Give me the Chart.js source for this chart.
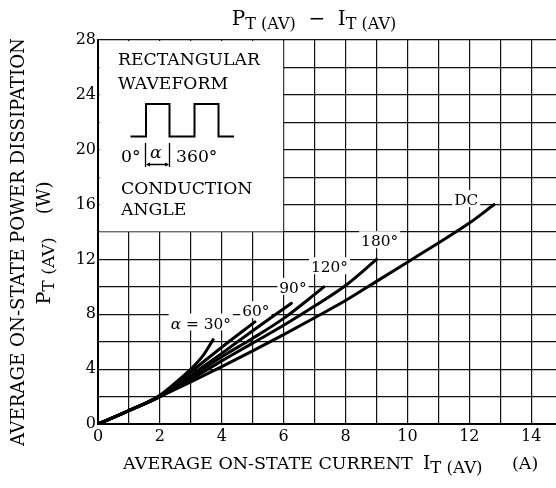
<!DOCTYPE html>
<html>
<head>
<meta charset="utf-8">
<script src="https://cdn.jsdelivr.net/npm/chart.js@4.4.1/dist/chart.umd.min.js"></script>
<style>
html,body{margin:0;padding:0;background:#fff;}
canvas{display:block;}
</style>
</head>
<body>
<canvas id="c" width="556" height="488" style="width:556px;height:488px"></canvas>
<script>
// ---- data ----
const xTickLabels = ['0','2','4','6','8','10','12','14'];
const yTickLabels = ['0','4','8','12','16','20','24','28'];

const seriesNames = ['α = 30°','60°','90°','120°','180°','DC'];

const i30  = [0, 1, 2, 2.5, 3, 3.4, 3.72];
const p30  = [0, 0.98, 2.1, 3.0, 4.0, 5.0, 6.15];
const i60  = [0, 1, 2, 3, 4, 5.07];
const p60  = [0, 0.98, 2.05, 3.8, 5.6, 7.45];
const i90  = [0, 1, 2, 3, 4, 5, 6, 6.25];
const p90  = [0, 0.98, 2.0, 3.55, 5.15, 6.8, 8.4, 8.8];
const i120 = [0, 1, 2, 3, 4, 5, 6, 7, 7.3];
const p120 = [0, 0.98, 2.0, 3.4, 4.9, 6.25, 7.7, 9.45, 10.0];
const i180 = [0, 1, 2, 3, 4, 5, 6, 7, 8, 9];
const p180 = [0, 0.98, 2.0, 3.25, 4.6, 5.9, 7.2, 8.6, 10.1, 12.0];
const iDC  = [0, 1, 2, 3, 4, 5, 6, 7, 8, 9, 10, 11, 12, 12.8];
const pDC  = [0, 0.98, 2.0, 3.07, 4.18, 5.33, 6.52, 7.75, 9.0, 10.4, 11.8, 13.2, 14.65, 16.0];

// label anchors (data coordinates) for the curve labels
const labelAnchorX = [3.32, 5.1, 6.3, 7.48, 9.1, 11.9];
const labelAnchorY = [7.4, 8.3, 10.0, 11.5, 13.4, 16.4];

const SERIF = '"DejaVu Serif", "Liberation Serif", serif';

function pts(xs, ys){ return xs.map((x,k)=>({x:x, y:ys[k]})); }

const allI = [i30,i60,i90,i120,i180,iDC];
const allP = [p30,p60,p90,p120,p180,pDC];

const datasets = allI.map((xs,k)=>({
  label: seriesNames[k],
  data: pts(xs, allP[k]),
  borderColor:'#000',
  borderWidth: 3,
  pointRadius:0,
  fill:false,
  cubicInterpolationMode:'monotone',
  borderCapStyle:'round'
}));

function drawRich(ctx, parts, x, y, align){
  let total = 0;
  parts.forEach(p=>{ ctx.font = (p.style||'') + ' ' + p.size + 'px ' + SERIF; p.w = ctx.measureText(p.t).width; total += p.w; });
  let cx = align==='center' ? x - total/2 : (align==='right' ? x-total : x);
  ctx.textAlign='left';
  ctx.textBaseline='alphabetic';
  parts.forEach(p=>{ ctx.font = (p.style||'') + ' ' + p.size + 'px ' + SERIF; ctx.fillText(p.t, cx, y + (p.dy||0)); cx += p.w; });
  return total;
}

function fitSize(ctx, text, width, style){
  ctx.font = (style||'') + ' 100px ' + SERIF;
  return 100*width/ctx.measureText(text).width;
}

const decor = {
  id:'decor',
  beforeDatasetsDraw(chart){
    const ctx = chart.ctx;
    const xs = chart.scales.x, ys = chart.scales.y;
    const {left, top} = chart.chartArea;
    ctx.save();
    // inset box (no grid inside)
    const x6 = xs.getPixelForValue(6), y14 = ys.getPixelForValue(14);
    ctx.fillStyle='#fff';
    ctx.fillRect(left+1.5, top+1, x6-left-2, y14-top-1.6);
    ctx.fillStyle='#000';
    const fs = fitSize(ctx,'RECTANGULAR',142);
    ctx.font = fs+'px '+SERIF;
    ctx.textAlign='left'; ctx.textBaseline='alphabetic';
    ctx.fillText('RECTANGULAR',118,65);
    ctx.fillText('WAVEFORM',118,88.5);
    ctx.fillText('CONDUCTION',121,193.5);
    ctx.fillText('ANGLE',121,215);
    ctx.fillText('0°',121,161.5);
    ctx.fillText('360°',176,161.5);
    ctx.font = 'italic '+fs+'px '+SERIF;
    ctx.fillText('α',150,158);
    // waveform
    ctx.strokeStyle='#000'; ctx.lineWidth=2;
    ctx.beginPath();
    ctx.moveTo(130.5,136.5); ctx.lineTo(146,136.5); ctx.lineTo(146,104); ctx.lineTo(169.5,104);
    ctx.lineTo(169.5,136.5); ctx.lineTo(194.5,136.5); ctx.lineTo(194.5,104); ctx.lineTo(218.5,104);
    ctx.lineTo(218.5,136.5); ctx.lineTo(234,136.5);
    ctx.stroke();
    ctx.lineWidth=1.3;
    ctx.beginPath();
    ctx.moveTo(145.5,143); ctx.lineTo(145.5,167);
    ctx.moveTo(169.5,143); ctx.lineTo(169.5,167);
    ctx.moveTo(147,164.5); ctx.lineTo(168,164.5);
    ctx.stroke();
    ctx.beginPath();
    ctx.moveTo(146,164.5); ctx.lineTo(150,162.5); ctx.lineTo(150,166.5); ctx.closePath();
    ctx.moveTo(169,164.5); ctx.lineTo(165,162.5); ctx.lineTo(165,166.5); ctx.closePath();
    ctx.fill();

    // curve labels with white backgrounds
    const lfs = fitSize(ctx,'180°',37);
    seriesNames.forEach((name,k)=>{
      const px = xs.getPixelForValue(labelAnchorX[k]);
      const py = ys.getPixelForValue(labelAnchorY[k]);
      let parts;
      if(k===0){ parts=[{t:'α',size:lfs,style:'italic'},{t:' = 30°',size:lfs}]; }
      else parts=[{t:name,size:lfs}];
      let w=0; parts.forEach(p=>{ctx.font=(p.style||'')+' '+p.size+'px '+SERIF; w+=ctx.measureText(p.t).width;});
      ctx.fillStyle='#fff';
      ctx.fillRect(px-w/2-2, py-9, w+4, 17);
      ctx.fillStyle='#000';
      drawRich(ctx, parts, px, py+6, 'center');
    });
    ctx.restore();
  },
  afterDraw(chart){
    const ctx = chart.ctx;
    ctx.save();
    ctx.fillStyle='#000';
    // title
    const ts = 20, ss = 16;
    drawRich(ctx,[{t:'P',size:ts},{t:'T (AV)',size:ss,dy:4},{t:'  −  ',size:ts},{t:'I',size:ts},{t:'T (AV)',size:ss,dy:4}],314,25,'center');
    // x axis title
    const xs1 = fitSize(ctx,'AVERAGE ON-STATE CURRENT',290);
    ctx.font = xs1+'px '+SERIF; ctx.textAlign='left'; ctx.textBaseline='alphabetic';
    ctx.fillText('AVERAGE ON-STATE CURRENT',123,469);
    drawRich(ctx,[{t:'I',size:xs1+1},{t:'T (AV)',size:xs1-1,dy:4}],423,469,'left');
    drawRich(ctx,[{t:'(A)',size:xs1}],512,469,'left');
    // y axis title
    ctx.save();
    ctx.translate(24,242);
    ctx.rotate(-Math.PI/2);
    const ys1 = fitSize(ctx,'AVERAGE ON-STATE POWER DISSIPATION',408);
    drawRich(ctx,[{t:'AVERAGE ON-STATE POWER DISSIPATION',size:ys1}],0,0,'center');
    ctx.restore();
    ctx.save();
    ctx.translate(50,243);
    ctx.rotate(-Math.PI/2);
    drawRich(ctx,[{t:'P',size:ys1+1},{t:'T (AV)',size:ys1-1,dy:4},{t:'    (W)',size:ys1}],0,0,'center');
    ctx.restore();
    ctx.restore();
  }
};

new Chart(document.getElementById('c'),{
  type:'line',
  data:{datasets:datasets},
  options:{
    responsive:false,
    animation:false,
    devicePixelRatio:1,
    layout:{padding:{top:40,right:0,left:0,bottom:0}},
    plugins:{legend:{display:false},title:{display:false},tooltip:{enabled:false}},
    scales:{
      x:{
        type:'linear', min:0, max:14.8,
        afterFit(s){ s.height = 64; },
        ticks:{stepSize:1, includeBounds:false, autoSkip:false, maxRotation:0, color:'#000', padding:3,
          font:{family:SERIF, size:16},
          callback:(v)=> xTickLabels.includes(String(v)) ? String(v) : ''},
        grid:{color:'#111', lineWidth:1.2, drawTicks:false},
        border:{color:'#000', width:2}
      },
      y:{
        type:'linear', min:0, max:28,
        afterFit(s){ s.width = 98; },
        ticks:{stepSize:2, autoSkip:false, color:'#000', padding:2,
          font:{family:SERIF, size:16},
          callback:(v)=> yTickLabels.includes(String(v)) ? String(v) : ''},
        grid:{color:'#111', lineWidth:1.2, drawTicks:false},
        border:{color:'#000', width:2}
      }
    }
  },
  plugins:[decor]
});
</script>
</body>
</html>
